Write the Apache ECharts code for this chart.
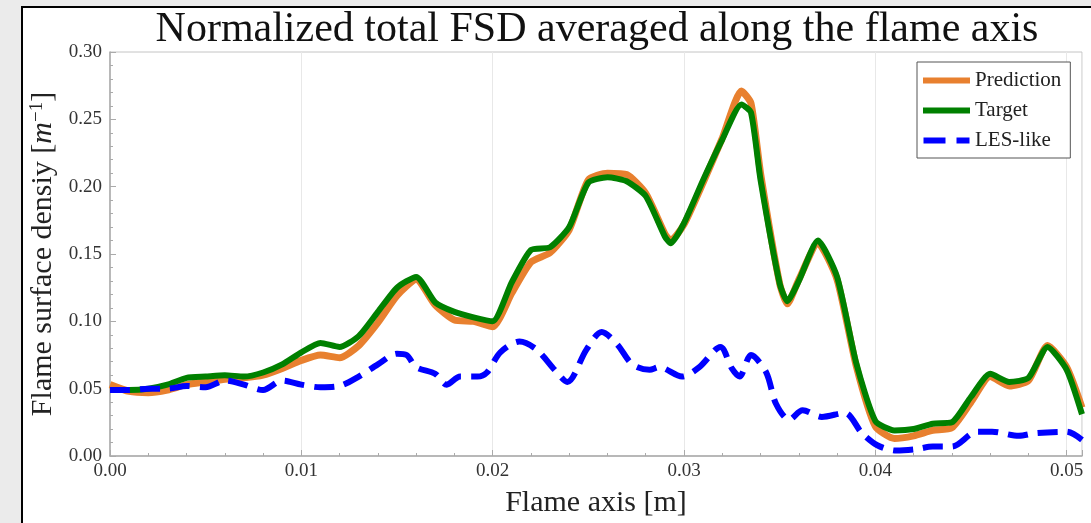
<!DOCTYPE html>
<html>
<head>
<meta charset="utf-8">
<script src="https://cdn.jsdelivr.net/npm/echarts@6/dist/echarts.min.js"></script>
<style>
html,body{margin:0;padding:0;background:#ebebeb;}
#c{width:1091px;height:523px;}
</style>
</head>
<body>
<div id="c"></div>
<script>
// ---- data ----
const titleText = 'Normalized total FSD averaged along the flame axis';
const xAxisName = 'Flame axis [m]';
const seriesNames = ['Prediction', 'Target', 'LES-like'];

const xPT = [0, 0.001, 0.002, 0.003, 0.004, 0.005, 0.006, 0.007, 0.008, 0.009,
  0.010, 0.011, 0.012, 0.013, 0.014, 0.015, 0.016, 0.017, 0.018, 0.019,
  0.020, 0.021, 0.022, 0.023, 0.024, 0.025, 0.026, 0.027, 0.028, 0.029,
  0.0293, 0.030, 0.031, 0.032, 0.033, 0.0335, 0.034, 0.035, 0.0354, 0.036,
  0.037, 0.038, 0.039, 0.040, 0.041, 0.042, 0.043, 0.044, 0.045, 0.046,
  0.047, 0.048, 0.049, 0.050, 0.0508];

const prediction = [0.053, 0.048, 0.047, 0.049, 0.053, 0.055, 0.057, 0.058, 0.060, 0.065,
  0.071, 0.075, 0.073, 0.082, 0.099, 0.119, 0.131, 0.112, 0.101, 0.100,
  0.096, 0.121, 0.144, 0.151, 0.168, 0.205, 0.210, 0.209, 0.195, 0.165,
  0.160, 0.172, 0.203, 0.236, 0.271, 0.262, 0.210, 0.128, 0.113, 0.131,
  0.158, 0.131, 0.067, 0.022, 0.013, 0.015, 0.019, 0.021, 0.040, 0.059,
  0.052, 0.056, 0.082, 0.066, 0.036];

const target = [0.049, 0.049, 0.050, 0.053, 0.058, 0.059, 0.060, 0.059, 0.062, 0.068,
  0.077, 0.084, 0.081, 0.089, 0.107, 0.125, 0.133, 0.114, 0.107, 0.103,
  0.100, 0.129, 0.153, 0.155, 0.170, 0.203, 0.207, 0.204, 0.193, 0.163,
  0.158, 0.173, 0.205, 0.235, 0.261, 0.255, 0.205, 0.128, 0.115, 0.130,
  0.160, 0.133, 0.069, 0.026, 0.019, 0.020, 0.024, 0.025, 0.044, 0.061,
  0.055, 0.058, 0.081, 0.064, 0.031];

const xLes = [0, 0.001, 0.002, 0.003, 0.004, 0.005, 0.006, 0.007, 0.008, 0.009,
  0.010, 0.011, 0.012, 0.013, 0.014, 0.015, 0.0155, 0.016, 0.017, 0.0176,
  0.0183, 0.0192, 0.0197, 0.0204, 0.0214, 0.0223, 0.0233, 0.0239, 0.0249, 0.0257,
  0.0265, 0.0273, 0.0282, 0.0287, 0.0299, 0.0308, 0.0319, 0.0325, 0.0329, 0.0335,
  0.0343, 0.0348, 0.0355, 0.0362, 0.0372, 0.0384, 0.0393, 0.0401, 0.0411, 0.0421,
  0.0430, 0.0440, 0.0453, 0.0461, 0.0475, 0.0484, 0.0500, 0.0508];

const lesLike = [0.049, 0.049, 0.050, 0.050, 0.052, 0.051, 0.056, 0.053, 0.049, 0.056,
  0.053, 0.051, 0.052, 0.059, 0.068, 0.076, 0.075, 0.066, 0.061, 0.053,
  0.059, 0.059, 0.062, 0.077, 0.085, 0.079, 0.063, 0.055, 0.079, 0.092,
  0.083, 0.068, 0.064, 0.066, 0.059, 0.066, 0.081, 0.065, 0.059, 0.075,
  0.062, 0.039, 0.027, 0.034, 0.029, 0.032, 0.017, 0.008, 0.004, 0.005,
  0.007, 0.007, 0.018, 0.018, 0.015, 0.017, 0.018, 0.012];

const xTickInterval = 0.01;
const yTickInterval = 0.05;

// ---- chart ----
const pairs = (xs, ys) => xs.map((x, i) => [x, ys[i]]);
const FONT = '"Liberation Serif", "DejaVu Serif", serif';
const SOLID_ICON = 'path://M0,0H47V6H0Z';
const DASH_ICON = 'path://M0,0H22V6H0Z M33,0H46V6H33Z';

const chart = echarts.init(document.getElementById('c'), null, {renderer: 'canvas'});
chart.setOption({
  backgroundColor: '#ebebeb',
  animation: false,
  textStyle: {fontFamily: FONT},
  graphic: [{
    type: 'rect', z: -10, silent: true,
    shape: {x: 22, y: 7, width: 1100, height: 540},
    style: {fill: '#ffffff', stroke: '#000000', lineWidth: 2}
  }],
  title: {
    text: titleText,
    left: 592, top: 4, textAlign: 'center',
    textStyle: {fontFamily: FONT, fontSize: 42, fontWeight: 'normal', color: '#111'}
  },
  legend: {
    orient: 'vertical',
    left: 917, top: 62,
    data: [
      {name: seriesNames[0], icon: SOLID_ICON},
      {name: seriesNames[1], icon: SOLID_ICON},
      {name: seriesNames[2], icon: DASH_ICON}
    ],
    itemWidth: 47, itemHeight: 6, itemGap: 9,
    padding: [8, 9, 7, 6],
    borderColor: '#555', borderWidth: 1,
    backgroundColor: '#fff',
    textStyle: {fontFamily: FONT, fontSize: 21, color: '#222'}
  },
  grid: {left: 110, right: 9, top: 52, bottom: 66, show: true, borderColor: '#c4c4c4', borderWidth: 1, backgroundColor: 'transparent'},
  xAxis: {
    type: 'value', min: 0, max: 0.0508, interval: xTickInterval,
    name: xAxisName, nameLocation: 'middle', nameGap: 32,
    nameTextStyle: {fontFamily: FONT, fontSize: 30, color: '#222'},
    axisLine: {show: true, lineStyle: {color: '#aaa', width: 1.5}},
    axisTick: {show: true, inside: true, length: 6, lineStyle: {color: '#aaa'}},
    minorTick: {show: true, splitNumber: 5, length: 3, lineStyle: {color: '#aaa'}},
    splitLine: {show: true, lineStyle: {color: '#e8e8e8', width: 1}},
    axisLabel: {
      showMaxLabel: false, margin: 6,
      fontFamily: FONT, fontSize: 19, color: '#333',
      formatter: v => v.toFixed(2)
    }
  },
  yAxis: {
    type: 'value', min: 0, max: 0.30, interval: yTickInterval,
    name: 'Flame surface densiy [{i|m}{sup|−1}]',
    nameLocation: 'middle', nameGap: 50, nameRotate: 90,
    nameTextStyle: {
      fontFamily: FONT, fontSize: 30, color: '#222',
      rich: {
        i: {fontFamily: FONT, fontSize: 30, fontStyle: 'italic', color: '#222'},
        sup: {fontFamily: FONT, fontSize: 19, color: '#222', verticalAlign: 'top', padding: [0, 0, 12, 0]}
      }
    },
    axisLine: {show: true, lineStyle: {color: '#aaa', width: 1.5}},
    axisTick: {show: true, inside: true, length: 6, lineStyle: {color: '#aaa'}},
    minorTick: {show: true, splitNumber: 5, length: 3, lineStyle: {color: '#aaa'}},
    splitLine: {show: false},
    axisLabel: {
      margin: 8,
      fontFamily: FONT, fontSize: 19, color: '#333',
      formatter: v => v.toFixed(2)
    }
  },
  series: [
    {
      name: seriesNames[0], type: 'line', data: pairs(xPT, prediction),
      symbol: 'none', smooth: 0.2, z: 2,
      itemStyle: {color: '#E8802F'},
      lineStyle: {color: '#E8802F', width: 7}
    },
    {
      name: seriesNames[1], type: 'line', data: pairs(xPT, target),
      symbol: 'none', smooth: 0.2, z: 3,
      itemStyle: {color: '#008000'},
      lineStyle: {color: '#008000', width: 6}
    },
    {
      name: seriesNames[2], type: 'line', data: pairs(xLes, lesLike),
      symbol: 'none', smooth: 0.3, z: 4,
      itemStyle: {color: '#0000FF'},
      lineStyle: {color: '#0000FF', width: 6, type: [20, 10], cap: 'butt'}
    }
  ]
});
</script>
</body>
</html>
